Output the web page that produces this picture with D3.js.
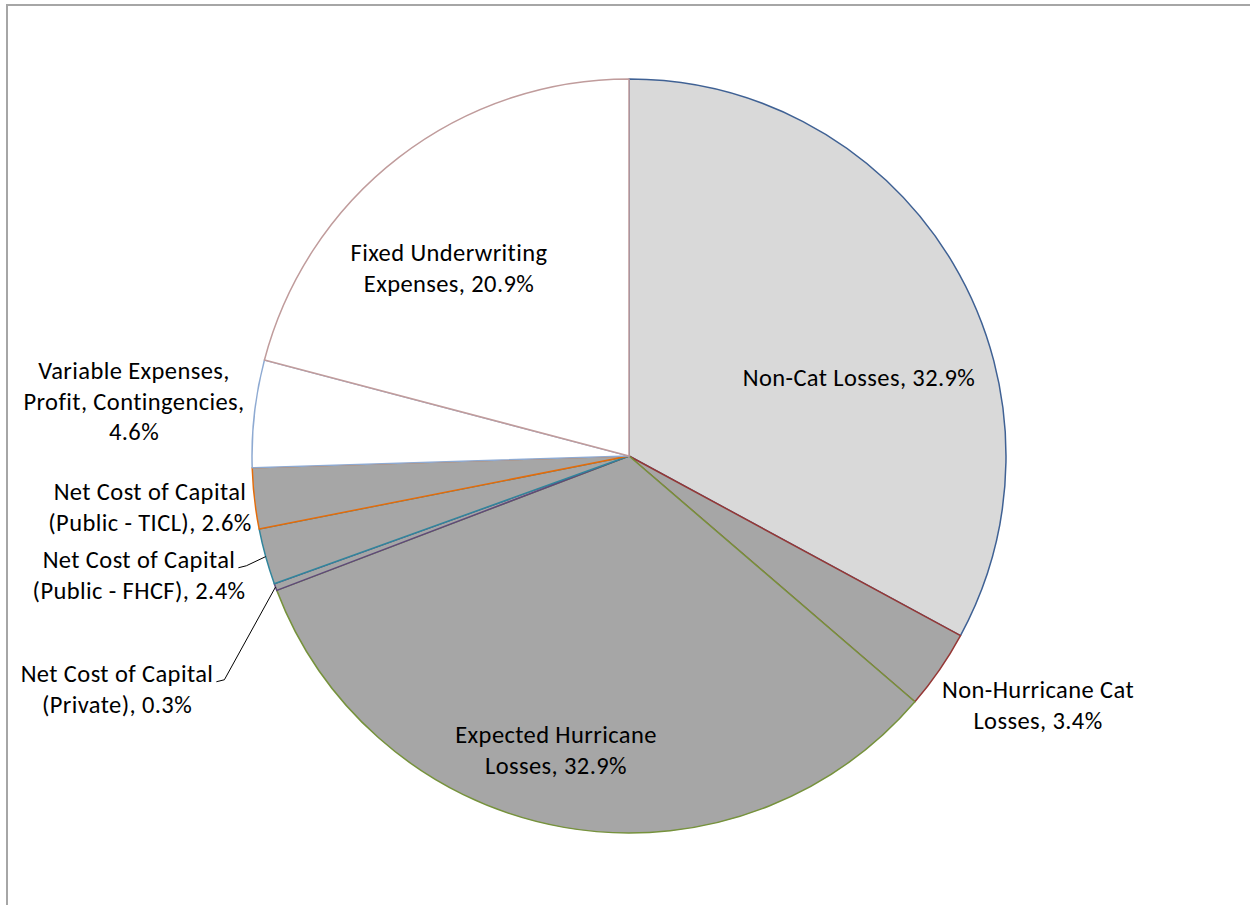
<!DOCTYPE html>
<html>
<head>
<meta charset="utf-8">
<script src="https://cdn.jsdelivr.net/npm/d3@7"></script>
<style>
  body { margin: 0; background: #fff; }
  svg { display: block; }
  text { font-family: Carlito, Calibri, Lato, "Open Sans", sans-serif; fill: #000; }
</style>
</head>
<body>
<script>
// cost breakdown, clockwise from 12 o'clock
const categories = [
  "Non-Cat Losses",
  "Non-Hurricane Cat Losses",
  "Expected Hurricane Losses",
  "Net Cost of Capital (Private)",
  "Net Cost of Capital (Public - FHCF)",
  "Net Cost of Capital (Public - TICL)",
  "Variable Expenses, Profit, Contingencies",
  "Fixed Underwriting Expenses"
];
const shares = [32.9, 3.4, 32.9, 0.3, 2.4, 2.6, 4.6, 20.9];
const labelLines = [
  ["Non-Cat Losses, 32.9%"],
  ["Non-Hurricane Cat", "Losses, 3.4%"],
  ["Expected Hurricane", "Losses, 32.9%"],
  ["Net Cost of Capital", "(Private), 0.3%"],
  ["Net Cost of Capital", "(Public - FHCF), 2.4%"],
  ["Net Cost of Capital", "(Public - TICL), 2.6%"],
  ["Variable Expenses,", "Profit, Contingencies,", "4.6%"],
  ["Fixed Underwriting", "Expenses, 20.9%"]
];

const fills   = ["#d9d9d9", "#a6a6a6", "#a6a6a6", "#a6a6a6", "#a6a6a6", "#a6a6a6", "#ffffff", "#ffffff"];
const strokes = ["#3f6194", "#953735", "#76923c", "#5f497a", "#31859c", "#e46c0a", "#8eaad2", "#c09c9c"];

const WIDTH = 1250, HEIGHT = 905;
const CX = 629, CY = 456, R = 377;
const FONT = 24.5, LINE_H = 30.5;

// label block centres, as offsets from pie centre (pixels)
const labelOffsets = [
  [230, -79], [409, 249], [-73, 294], [-512, 233],
  [-490, 119], [-479, 51], [-495, -55], [-180, -188]
];
// which labels get a leader line back to the slice
const leaders = [false, false, false, true, true, false, false, false];

const svg = d3.select("body").append("svg")
  .attr("width", WIDTH)
  .attr("height", HEIGHT);

svg.append("rect")
  .attr("width", WIDTH).attr("height", HEIGHT)
  .attr("fill", "#fff");

// chart frame (right and bottom edges fall outside the picture)
svg.append("rect")
  .attr("x", 7).attr("y", 5)
  .attr("width", WIDTH + 20).attr("height", HEIGHT + 20)
  .attr("fill", "none")
  .attr("stroke", "#a6a6a6")
  .attr("stroke-width", 2);

const pie = d3.pie().sort(null).value(d => d);
const arcs = pie(shares);
const arc = d3.arc().innerRadius(0).outerRadius(R);

const g = svg.append("g").attr("transform", `translate(${CX},${CY})`);

g.selectAll(".slice")
  .data(arcs)
  .join("path")
  .attr("class", "slice")
  .attr("d", arc)
  .attr("fill", (d, i) => fills[i])
  .attr("stroke", (d, i) => strokes[i])
  .attr("stroke-width", 1.5)
  .attr("stroke-linejoin", "round");

const labels = g.selectAll(".lbl")
  .data(arcs)
  .join("text")
  .attr("class", "lbl")
  .attr("text-anchor", "middle")
  .style("font-size", FONT + "px")
  .style("letter-spacing", "0.4px");

labels.each(function(d, i) {
  const lines = labelLines[i];
  const [ox, oy] = labelOffsets[i];
  const top = oy - (lines.length - 1) * LINE_H / 2;
  d3.select(this).selectAll("tspan")
    .data(lines)
    .join("tspan")
    .attr("x", ox)
    .attr("y", (t, j) => top + j * LINE_H)
    .attr("dy", "0.35em")
    .text(t => t);
});

// leader lines: from right edge of the first label line to the slice's outer edge
labels.each(function(d, i) {
  if (!leaders[i]) return;
  const first = d3.select(this).select("tspan").node();
  const w = first.getComputedTextLength();
  const [ox, oy] = labelOffsets[i];
  const top = oy - (labelLines[i].length - 1) * LINE_H / 2;
  const sx = ox + w / 2 + 3, sy = top + 8;
  const mid = (d.startAngle + d.endAngle) / 2;
  const ex = R * Math.sin(mid), ey = -R * Math.cos(mid);
  g.append("polyline")
    .attr("points", [[sx, sy], [sx + 8, sy - 2], [ex, ey]].map(p => p.join(",")).join(" "))
    .attr("fill", "none")
    .attr("stroke", "#000")
    .attr("stroke-width", 1);
});
</script>
</body>
</html>
